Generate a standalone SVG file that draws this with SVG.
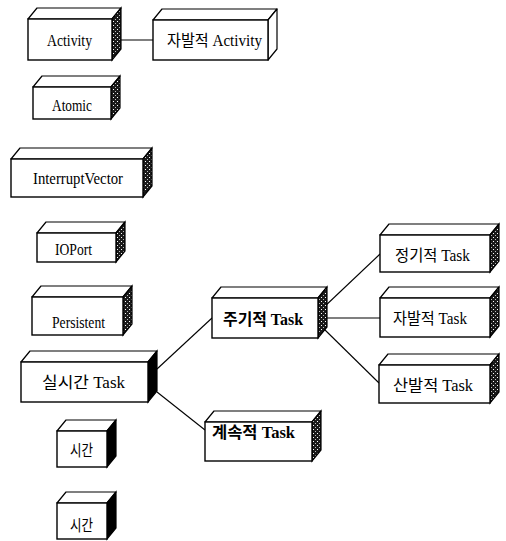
<svg xmlns="http://www.w3.org/2000/svg" width="506" height="541" viewBox="0 0 506 541">
<defs>
<pattern id="speck" width="4" height="4" patternUnits="userSpaceOnUse">
<rect width="4" height="4" fill="#1a1a1a"/>
<rect x="1" y="1" width="1" height="1" fill="#fff"/>
<rect x="3" y="3" width="1" height="1" fill="#bbb"/>
</pattern>
</defs>
<style>
.f{fill:#fff;stroke:#000;stroke-width:1.4}
.t{fill:#fff;stroke:#000;stroke-width:1.2;stroke-linejoin:round}
.s{fill:url(#speck);stroke:#000;stroke-width:1.2}
.k{fill:#000;stroke:#000;stroke-width:1.2}
.c{stroke:#000;stroke-width:1.1;fill:none}
text{font-family:"Liberation Serif","Noto Sans CJK KR",serif;font-size:16px;fill:#000}
.b{font-weight:bold}
</style>
<rect width="506" height="541" fill="#fff"/>
<g id="connectors">
<line class="c" x1="120" y1="40" x2="153" y2="40"/>
<line class="c" x1="157" y1="369" x2="212" y2="318"/>
<line class="c" x1="157" y1="392" x2="205" y2="430"/>
<line class="c" x1="323" y1="308" x2="380" y2="254"/>
<line class="c" x1="325" y1="318" x2="380" y2="318"/>
<line class="c" x1="323" y1="328" x2="379" y2="383"/>
</g>
<g id="activity">
<polygon class="t" points="28,19 37,8 121,8 112,19"/>
<polygon class="s" points="112,19 121,8 121,49 112,60"/>
<rect class="f" x="28" y="19" width="84" height="41"/>
<text x="47" y="46" textLength="45" lengthAdjust="spacingAndGlyphs">Activity</text>
</g>
<g id="spont-activity">
<polygon class="t" points="153,20 162,9 277,9 268,20"/>
<polygon class="t" points="268,20 277,9 277,49 268,60"/>
<rect class="f" x="153" y="20" width="115" height="40"/>
<text x="167" y="46" textLength="95" lengthAdjust="spacingAndGlyphs">자발적 Activity</text>
</g>
<g id="atomic">
<polygon class="t" points="33,87 42,76 120,76 111,87"/>
<polygon class="s" points="111,87 120,76 120,108 111,119"/>
<rect class="f" x="33" y="87" width="78" height="32"/>
<text x="52" y="111" textLength="40" lengthAdjust="spacingAndGlyphs">Atomic</text>
</g>
<g id="interruptvector">
<polygon class="t" points="11,159 20,148 152,148 143,159"/>
<polygon class="s" points="143,159 152,148 152,186 143,197"/>
<rect class="f" x="11" y="159" width="132" height="38"/>
<text x="33" y="184" textLength="90" lengthAdjust="spacingAndGlyphs">InterruptVector</text>
</g>
<g id="ioport">
<polygon class="t" points="37,233 46,222 125,222 116,233"/>
<polygon class="s" points="116,233 125,222 125,251 116,262"/>
<rect class="f" x="37" y="233" width="79" height="29"/>
<text x="55" y="255" textLength="37" lengthAdjust="spacingAndGlyphs">IOPort</text>
</g>
<g id="persistent">
<polygon class="t" points="32,297 41,286 132,286 123,297"/>
<polygon class="s" points="123,297 132,286 132,324 123,335"/>
<rect class="f" x="32" y="297" width="91" height="38"/>
<text x="52" y="328" textLength="53" lengthAdjust="spacingAndGlyphs">Persistent</text>
</g>
<g id="realtime-task">
<polygon class="t" points="21,362 30,351 157,351 148,362"/>
<polygon class="k" points="148,362 157,351 157,391 148,402"/>
<rect class="f" x="21" y="362" width="127" height="40"/>
<text x="42" y="388" textLength="83" lengthAdjust="spacingAndGlyphs">실시간 Task</text>
</g>
<g id="time1">
<polygon class="t" points="57,431 66,420 116,420 107,431"/>
<polygon class="k" points="107,431 116,420 116,456 107,467"/>
<rect class="f" x="57" y="431" width="50" height="36"/>
<text x="70" y="456" textLength="23" lengthAdjust="spacingAndGlyphs">시간</text>
</g>
<g id="time2">
<polygon class="t" points="57,503 66,492 116,492 107,503"/>
<polygon class="k" points="107,503 116,492 116,528 107,539"/>
<rect class="f" x="57" y="503" width="50" height="36"/>
<text x="70" y="531" textLength="23" lengthAdjust="spacingAndGlyphs">시간</text>
</g>
<g id="periodic-task">
<polygon class="t" points="212,298 221,287 327,287 318,298"/>
<polygon class="s" points="318,298 327,287 327,327 318,338"/>
<rect class="f" x="212" y="298" width="106" height="40"/>
<text class="b" x="223" y="325" textLength="80" lengthAdjust="spacingAndGlyphs">주기적 Task</text>
</g>
<g id="regular-task">
<polygon class="t" points="380,235 389,224 499,224 490,235"/>
<polygon class="s" points="490,235 499,224 499,261 490,272"/>
<rect class="f" x="380" y="235" width="110" height="37"/>
<text x="395" y="261" textLength="75" lengthAdjust="spacingAndGlyphs">정기적 Task</text>
</g>
<g id="spont-task">
<polygon class="t" points="380,298 389,287 499,287 490,298"/>
<polygon class="s" points="490,298 499,287 499,326 490,337"/>
<rect class="f" x="380" y="298" width="110" height="39"/>
<text x="393" y="324" textLength="74" lengthAdjust="spacingAndGlyphs">자발적 Task</text>
</g>
<g id="sporadic-task">
<polygon class="t" points="379,365 388,354 499,354 490,365"/>
<polygon class="s" points="490,365 499,354 499,392 490,403"/>
<rect class="f" x="379" y="365" width="111" height="38"/>
<text x="393" y="391" textLength="80" lengthAdjust="spacingAndGlyphs">산발적 Task</text>
</g>
<g id="continuous-task">
<polygon class="t" points="205,422 214,411 321,411 312,422"/>
<polygon class="s" points="312,422 321,411 321,450 312,461"/>
<rect class="f" x="205" y="422" width="107" height="39"/>
<text class="b" x="212" y="438" textLength="83" lengthAdjust="spacingAndGlyphs">계속적 Task</text>
</g>
</svg>
